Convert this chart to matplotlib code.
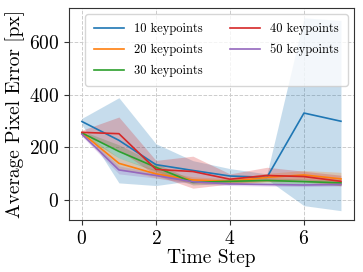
import numpy as np
import matplotlib
matplotlib.use("Agg")
import matplotlib.pyplot as plt

plt.rcParams['font.family'] = 'serif'
plt.rcParams['font.serif'] = ['cmr10']
plt.rcParams['mathtext.fontset'] = 'cm'
plt.rcParams['axes.formatter.use_mathtext'] = True

steps = [0, 1, 2, 3, 4, 5, 6, 7]
labels = ["10 keypoints", "20 keypoints", "30 keypoints", "40 keypoints", "50 keypoints"]
colors = ["#1f77b4", "#ff7f0e", "#2ca02c", "#d62728", "#9467bd"]

mean_10 = [298, 227, 135, 113, 92, 87, 330, 299]
low_10 = [286, 66, 56, 75, 62, 80, -20, -39]
high_10 = [310, 388, 214, 150, 120, 100, 690, 680]

mean_20 = [255, 140, 100, 77, 72, 87, 96, 81]
low_20 = [247, 120, 85, 65, 62, 72, 79, 56]
high_20 = [263, 160, 115, 89, 82, 102, 113, 106]

mean_30 = [255, 185, 125, 68, 72, 75, 71, 66]
low_30 = [247, 160, 110, 58, 64, 65, 61, 56]
high_30 = [263, 210, 140, 78, 80, 85, 81, 76]

mean_40 = [257, 252, 117, 109, 80, 94, 90, 72]
low_40 = [250, 190, 95, 46, 62, 70, 70, 55]
high_40 = [265, 315, 151, 167, 100, 125, 110, 95]

mean_50 = [250, 115, 94, 70, 62, 60, 58, 60]
low_50 = [242, 100, 84, 62, 56, 54, 52, 54]
high_50 = [258, 130, 104, 78, 68, 66, 64, 66]

means = [mean_10, mean_20, mean_30, mean_40, mean_50]
lows = [low_10, low_20, low_30, low_40, low_50]
highs = [high_10, high_20, high_30, high_40, high_50]

fig = plt.figure(figsize=(3.63, 2.72), dpi=100)
ax = fig.add_axes([0.19, 0.19, 0.785, 0.78])

for m, lo, hi, c, lab in zip(means, lows, highs, colors, labels):
    ax.plot(steps, m, color=c, lw=1.2, label=lab)
    ax.fill_between(steps, lo, hi, color=c, alpha=0.25, lw=0)

ax.grid(True, ls='--', color='#cccccc', lw=0.7)
ax.set_axisbelow(True)
for s in ax.spines.values():
    s.set_color('#333333')
ax.tick_params(labelsize=14, colors='#333333', labelcolor='black')
ax.set_xticks([0, 2, 4, 6])
ax.set_yticks([0, 200, 400, 600])
ax.set_xlabel('Time Step', fontsize=14, labelpad=1)
ax.set_ylabel('Average Pixel Error [px]', fontsize=14, labelpad=3)
ax.legend(ncol=2, loc='upper right', fontsize=9, framealpha=0.8, handlelength=2.4,
          handletextpad=0.8, columnspacing=2.2, borderpad=0.7, labelspacing=0.7)

fig.savefig('out.png', dpi=100)
